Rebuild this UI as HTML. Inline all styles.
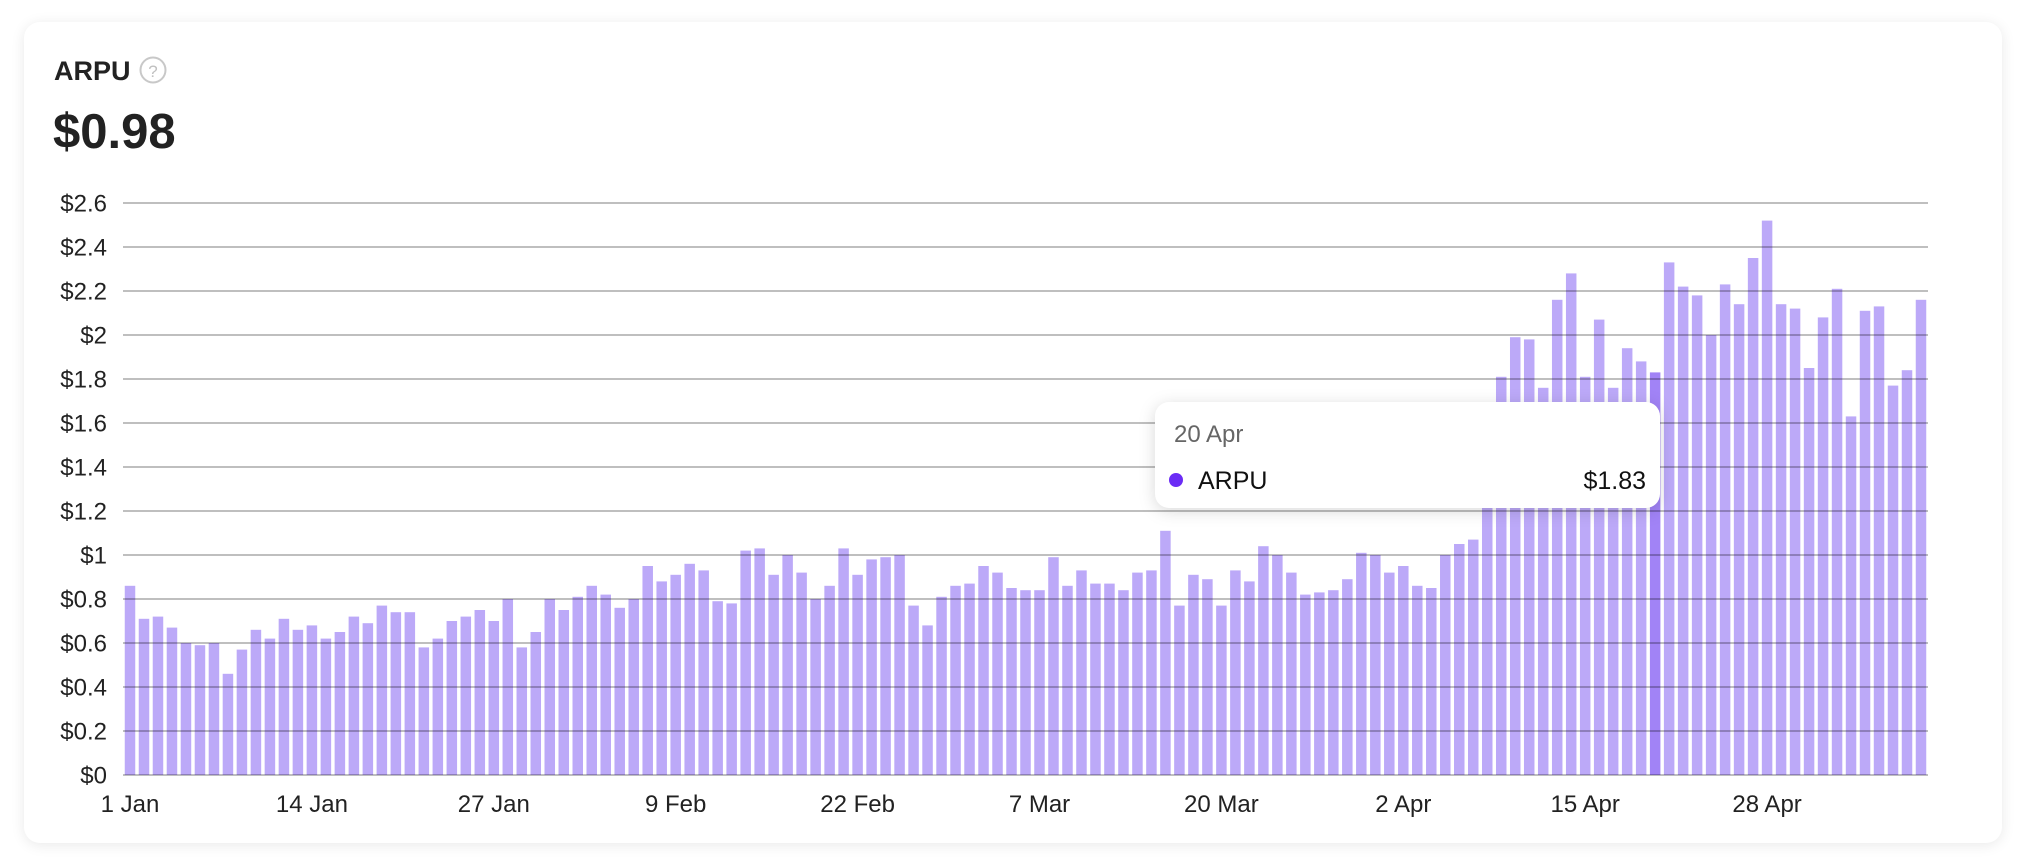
<!DOCTYPE html>
<html><head><meta charset="utf-8"><style>
html,body{margin:0;padding:0;background:#fff;width:2036px;height:866px;overflow:hidden;font-family:"Liberation Sans",sans-serif}
.card{position:absolute;left:24px;top:22px;width:1978px;height:821px;border-radius:16px;background:#fff;box-shadow:0 2px 14px rgba(0,0,0,0.09)}
</style></head><body>
<div class="card"></div>
<svg id="s" width="2036" height="866" style="position:absolute;left:0;top:0" xmlns="http://www.w3.org/2000/svg" font-family="Liberation Sans, sans-serif">
<text x="54" y="80" font-size="27" font-weight="bold" fill="#222">ARPU</text>
<circle cx="153" cy="70" r="12.5" fill="none" stroke="#c8c8c8" stroke-width="2"/>
<text x="153" y="77" font-size="17" fill="#c0c0c0" text-anchor="middle">?</text>
<text x="53" y="148" font-size="49" font-weight="bold" fill="#222">$0.98</text>
<g id="bars"></g>
<g id="grid"></g>
<g id="labels" font-size="24" fill="#222"></g>
<g>
<rect x="1155" y="402" width="505" height="106" rx="14" fill="#fff" style="filter:drop-shadow(0 3px 8px rgba(0,0,0,0.15))"/>
<text x="1174" y="442" font-size="24" fill="#666">20 Apr</text>
<circle cx="1176" cy="480" r="7" fill="#6b2cf5"/>
<text x="1198" y="489" font-size="25" fill="#111">ARPU</text>
<text x="1646" y="489" font-size="25" fill="#111" text-anchor="end">$1.83</text>
</g>
</svg>
<script>
var v=[0.86,0.71,0.72,0.67,0.60,0.59,0.60,0.46,0.57,0.66,0.62,0.71,0.66,0.68,0.62,0.65,0.72,0.69,0.77,0.74,0.74,0.58,0.62,0.70,0.72,0.75,0.70,0.80,0.58,0.65,0.80,0.75,0.81,0.86,0.82,0.76,0.80,0.95,0.88,0.91,0.96,0.93,0.79,0.78,
1.02,1.03,0.91,1.00,0.92,0.80,0.86,1.03,0.91,0.98,0.99,1.00,0.77,0.68,0.81,0.86,0.87,0.95,0.92,0.85,0.84,0.84,0.99,0.86,0.93,0.87,0.87,0.84,0.92,0.93,1.11,0.77,0.91,0.89,0.77,0.93,0.88,1.04,1.00,0.92,0.82,0.83,0.84,0.89,
1.01,1.00,0.92,0.95,0.86,0.85,1.00,1.05,1.07,1.6,1.81,1.99,1.98,1.76,2.16,2.28,1.81,2.07,1.76,1.94,1.88,1.83,
2.33,2.22,2.18,2.00,2.23,2.14,2.35,2.52,2.14,2.12,1.85,2.08,2.21,1.63,2.11,2.13,1.77,1.84,2.16];
var NS="http://www.w3.org/2000/svg";
function el(t,a,p){var e=document.createElementNS(NS,t);for(var k in a)e.setAttribute(k,a[k]);p.appendChild(e);return e;}
var L=123,R=1928,Y0=775,S=220,n=v.length,pw=(R-L)/n,bw=10.5;
var bars=document.getElementById('bars'),grid=document.getElementById('grid'),lab=document.getElementById('labels');
for(var i=0;i<n;i++){var h=v[i]*S;el('rect',{x:(L+i*pw+(pw-bw)/2).toFixed(2),y:(Y0-h).toFixed(2),width:bw,height:h.toFixed(2),fill:(i==109?'#a183f6':'#bca9f8')},bars);}
for(var j=0;j<=13;j++){var y=Y0-j*44;el('line',{x1:L,x2:R,y1:y,y2:y,stroke:'rgba(0,0,0,0.25)','stroke-width':2},grid);
var t=el('text',{x:107,y:y+8.5,'text-anchor':'end'},lab);var val=(j*0.2).toFixed(1).replace(/\.0$/,'');t.textContent='$'+val;}
var xl=[[0,'1 Jan'],[13,'14 Jan'],[26,'27 Jan'],[39,'9 Feb'],[52,'22 Feb'],[65,'7 Mar'],[78,'20 Mar'],[91,'2 Apr'],[104,'15 Apr'],[117,'28 Apr']];
xl.forEach(function(p){var t=el('text',{x:(L+(p[0]+0.5)*pw).toFixed(1),y:812,'text-anchor':'middle'},lab);t.textContent=p[1];});
</script>
</body></html>
